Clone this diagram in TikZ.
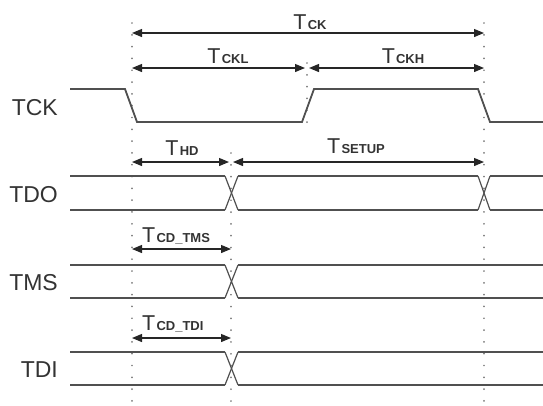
\documentclass[tikz,border=0pt]{standalone}
\usepackage{fontspec}
\setmainfont{Liberation Sans}
\usetikzlibrary{arrows.meta}
\definecolor{sig}{HTML}{505050}
\definecolor{txt}{HTML}{333333}
\definecolor{dotc}{HTML}{7A7A7A}
\begin{document}
\begin{tikzpicture}[x=1pt,y=-1pt,
  sigline/.style={draw=sig,line width=1.8pt,line join=miter},
  xline/.style={draw=sig,line width=1.2pt},
  guide/.style={draw=dotc,line width=1.9pt,line cap=round,dash pattern=on 0.01pt off 11.8pt},
  dim/.style={draw=black!85,line width=1.2pt,{Triangle[length=10pt,width=8pt]}-{Triangle[length=10pt,width=8pt]}},
  siglabel/.style={anchor=base east,inner sep=0pt,text=txt,font=\fontsize{23}{23}\selectfont},
  tlabel/.style={inner sep=0pt,text=txt,font=\fontsize{21.5}{21.5}\selectfont}]
\useasboundingbox (0,0) rectangle (543,405);
\newcommand{\Tsub}[1]{T\hspace{1.2pt}{\fontsize{13}{13}\bfseries\selectfont #1}}
% guide lines
\coordinate (gLt) at (132,23);  \coordinate (gLb) at (132,405);
\coordinate (gRt) at (484,23);  \coordinate (gRb) at (484,405);
\coordinate (gMt) at (307,63);  \coordinate (gMb) at (307,124);
\coordinate (gXt) at (231,153); \coordinate (gXb) at (231,405);
\draw[guide] (gLt) -- (gLb);
\draw[guide] (gRt) -- (gRb);
\draw[guide] (gMt) -- (gMb);
\draw[guide] (gXt) -- (gXb);
% signal labels
\node[siglabel] (lTCK) at (58,115) {TCK};
\node[siglabel] (lTDO) at (58,202) {TDO};
\node[siglabel] (lTMS) at (58,290) {TMS};
\node[siglabel] (lTDI) at (58,377) {TDI};
% TCK waveform
\draw[sigline] (70,89) -- (125,89) -- (137,122) -- (302,122) -- (314,89) -- (478,89) -- (490,122) -- (543,122);
% TDO
\draw[sigline] (70,176) -- (225,176);
\draw[sigline] (70,210) -- (225,210);
\draw[xline] (225,176) -- (238,210);
\draw[xline] (225,210) -- (238,176);
\draw[sigline] (238,176) -- (478,176);
\draw[sigline] (238,210) -- (478,210);
\draw[xline] (478,176) -- (490,210);
\draw[xline] (478,210) -- (490,176);
\draw[sigline] (490,176) -- (543,176);
\draw[sigline] (490,210) -- (543,210);
% TMS
\draw[sigline] (70,265) -- (225,265);
\draw[sigline] (70,298) -- (225,298);
\draw[xline] (225,265) -- (238,298);
\draw[xline] (225,298) -- (238,265);
\draw[sigline] (238,265) -- (543,265);
\draw[sigline] (238,298) -- (543,298);
% TDI
\draw[sigline] (70,352) -- (225,352);
\draw[sigline] (70,385) -- (225,385);
\draw[xline] (225,352) -- (238,385);
\draw[xline] (225,385) -- (238,352);
\draw[sigline] (238,352) -- (543,352);
\draw[sigline] (238,385) -- (543,385);
% dimension arrows
\coordinate (ck1) at (132,33);  \coordinate (ck2) at (484,33);
\coordinate (ckl1) at (132,68); \coordinate (ckl2) at (305,68);
\coordinate (ckh1) at (309,68); \coordinate (ckh2) at (484,68);
\coordinate (hd1) at (132,162); \coordinate (hd2) at (229,162);
\coordinate (su1) at (233,162); \coordinate (su2) at (484,162);
\coordinate (tms1) at (132,249); \coordinate (tms2) at (231,249);
\coordinate (tdi1) at (132,338); \coordinate (tdi2) at (231,338);
\draw[dim] (ck1) -- (ck2);
\draw[dim] (ckl1) -- (ckl2);
\draw[dim] (ckh1) -- (ckh2);
\draw[dim] (hd1) -- (hd2);
\draw[dim] (su1) -- (su2);
\draw[dim] (tms1) -- (tms2);
\draw[dim] (tdi1) -- (tdi2);
% timing labels
\node[tlabel,anchor=base] (tCK) at (310,29) {\Tsub{CK}};
\node[tlabel,anchor=base] (tCKL) at (228,63) {\Tsub{CKL}};
\node[tlabel,anchor=base] (tCKH) at (403,63) {\Tsub{CKH}};
\node[tlabel,anchor=base] (tHD) at (182,155) {\Tsub{HD}};
\node[tlabel,anchor=base] (tSU) at (356,153) {\Tsub{SETUP}};
\node[tlabel,anchor=base west] (tTMS) at (142,242) {\Tsub{CD\_TMS}};
\node[tlabel,anchor=base west] (tTDI) at (142,330) {\Tsub{CD\_TDI}};
\end{tikzpicture}
\end{document}
